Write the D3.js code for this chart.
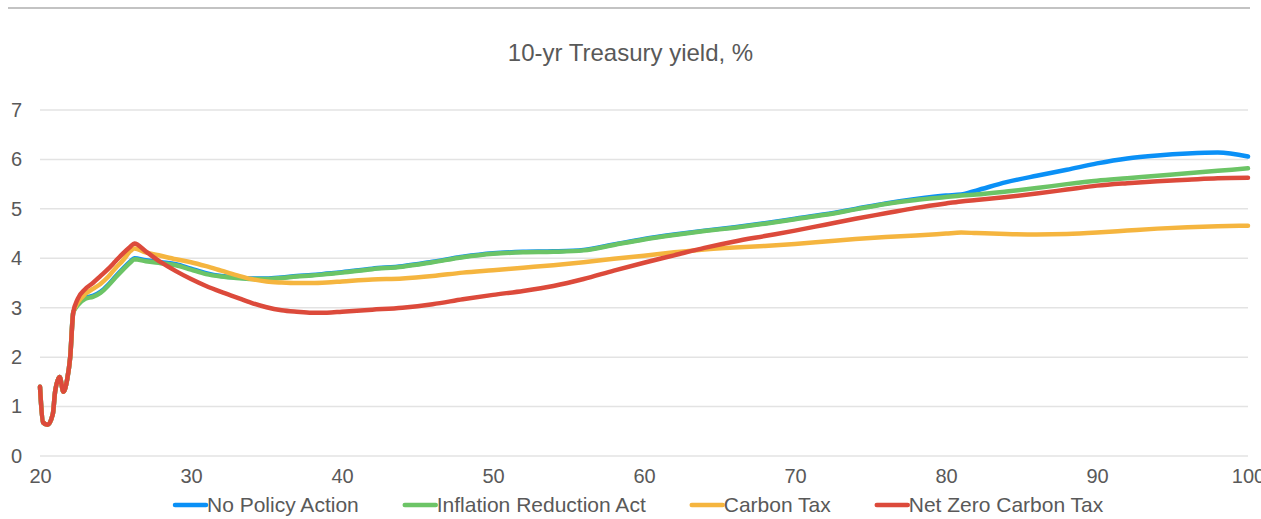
<!DOCTYPE html>
<html>
<head>
<meta charset="utf-8">
<script src="https://cdn.jsdelivr.net/npm/d3@7"></script>
<style>
  html, body { margin: 0; padding: 0; background: #fff; }
  svg { display: block; font-family: "Liberation Sans", Arial, sans-serif; }
</style>
</head>
<body>
<svg id="chart" width="1261" height="519"></svg>
<script>
// Shared history (all scenarios identical before the projections split)
const historyYears  = [20, 20.2, 20.5, 20.85, 21.0, 21.3, 21.55, 21.8, 22.0, 22.2];
const historyValues = [1.40, 0.68, 0.63, 0.85, 1.30, 1.60, 1.30, 1.55, 2.00, 2.90];

// Projection years
const years = [22.5, 23, 23.5, 24, 24.5, 25, 25.5, 26, 26.25, 27, 28, 29, 30, 31, 32, 33, 34, 35,
  36, 37, 38, 39, 40, 42, 44, 46, 48, 50, 52, 54, 56, 58, 60, 62, 64, 66, 68, 70, 72, 74, 76, 78,
  80, 81, 82, 84, 86, 88, 90, 92, 94, 96, 98, 100];

const noPolicyAction = [3.07, 3.20, 3.24, 3.32, 3.46, 3.63, 3.79, 3.94, 4.00, 3.96, 3.92, 3.88,
  3.79, 3.70, 3.64, 3.61, 3.59, 3.59, 3.61, 3.64, 3.66, 3.69, 3.72, 3.79, 3.84, 3.93, 4.03, 4.10,
  4.13, 4.14, 4.17, 4.28, 4.39, 4.48, 4.56, 4.63, 4.71, 4.80, 4.89, 5.00, 5.11, 5.20, 5.27, 5.29,
  5.37, 5.54, 5.67, 5.79, 5.92, 6.02, 6.08, 6.12, 6.14, 6.06];

const inflationReductionAct = [3.05, 3.18, 3.22, 3.30, 3.44, 3.61, 3.77, 3.92, 3.98, 3.94, 3.90,
  3.86, 3.77, 3.68, 3.63, 3.60, 3.58, 3.58, 3.60, 3.63, 3.65, 3.68, 3.71, 3.78, 3.83, 3.92, 4.02,
  4.09, 4.12, 4.13, 4.16, 4.27, 4.38, 4.47, 4.55, 4.62, 4.70, 4.79, 4.88, 4.99, 5.10, 5.18, 5.24,
  5.27, 5.29, 5.35, 5.42, 5.50, 5.57, 5.62, 5.67, 5.72, 5.77, 5.82];

const carbonTax = [3.10, 3.28, 3.38, 3.48, 3.62, 3.80, 3.96, 4.15, 4.20, 4.12, 4.05, 3.98, 3.92,
  3.84, 3.75, 3.66, 3.58, 3.53, 3.51, 3.50, 3.50, 3.51, 3.53, 3.57, 3.59, 3.64, 3.71, 3.76, 3.81,
  3.86, 3.92, 3.99, 4.05, 4.12, 4.18, 4.22, 4.25, 4.29, 4.34, 4.39, 4.43, 4.46, 4.50, 4.52, 4.51,
  4.49, 4.48, 4.49, 4.52, 4.56, 4.60, 4.63, 4.65, 4.66];

const netZeroCarbonTax = [3.18, 3.38, 3.50, 3.64, 3.78, 3.94, 4.10, 4.24, 4.30, 4.14, 3.92, 3.74,
  3.58, 3.44, 3.32, 3.21, 3.10, 3.01, 2.95, 2.92, 2.90, 2.90, 2.92, 2.96, 3.00, 3.07, 3.17, 3.26,
  3.34, 3.44, 3.58, 3.75, 3.91, 4.06, 4.21, 4.34, 4.45, 4.56, 4.68, 4.80, 4.91, 5.02, 5.11, 5.15,
  5.18, 5.24, 5.31, 5.39, 5.47, 5.52, 5.56, 5.59, 5.62, 5.63];

const seriesNames  = ["No Policy Action", "Inflation Reduction Act", "Carbon Tax", "Net Zero Carbon Tax"];
const seriesValues = [noPolicyAction, inflationReductionAct, carbonTax, netZeroCarbonTax];
const seriesColors = ["#0a90f6", "#6cc466", "#f5b53f", "#dc4a3b"];

const xTicks = [20, 30, 40, 50, 60, 70, 80, 90, 100];
const yTicks = [0, 1, 2, 3, 4, 5, 6, 7];
const title = "10-yr Treasury yield, %";

const W = 1261, H = 519;
const svg = d3.select("#chart");
const textColor = "#595959";

// Top rule
svg.append("line")
  .attr("x1", 8).attr("x2", 1250).attr("y1", 8).attr("y2", 8)
  .attr("stroke", "#c3c3c3").attr("stroke-width", 2);

// Title
svg.append("text")
  .attr("x", W / 2).attr("y", 61)
  .attr("text-anchor", "middle")
  .attr("font-size", 24)
  .attr("fill", textColor)
  .text(title);

const x = d3.scaleLinear().domain([20, 100]).range([40, 1248]);
const y = d3.scaleLinear().domain([0, 7]).range([456, 110]);

// Horizontal gridlines
svg.append("g")
  .selectAll("line")
  .data(yTicks)
  .join("line")
  .attr("x1", x(20)).attr("x2", x(100))
  .attr("y1", d => y(d)).attr("y2", d => y(d))
  .attr("stroke", "#e3e3e3").attr("stroke-width", 1.5);

// Y axis labels
const yAxis = d3.axisLeft(y).tickValues(yTicks).tickSize(0).tickPadding(0).tickFormat(d3.format("d"));
svg.append("g")
  .attr("transform", "translate(22,0)")
  .call(yAxis)
  .call(g => g.select(".domain").remove())
  .call(g => g.selectAll("text")
    .attr("font-size", 20).attr("fill", textColor)
    .attr("font-family", "Liberation Sans, Arial, sans-serif"));

// X axis labels
const xAxis = d3.axisBottom(x).tickValues(xTicks).tickSize(0).tickPadding(0).tickFormat(d3.format("d"));
svg.append("g")
  .attr("transform", "translate(0,469)")
  .call(xAxis)
  .call(g => g.select(".domain").remove())
  .call(g => g.selectAll("text")
    .attr("font-size", 20).attr("fill", textColor)
    .attr("font-family", "Liberation Sans, Arial, sans-serif"));

// Lines
const line = d3.line()
  .x(d => x(d[0]))
  .y(d => y(d[1]))
  .curve(d3.curveMonotoneX);

seriesValues.forEach((vals, i) => {
  const pts = historyYears.map((yr, j) => [yr, historyValues[j]])
    .concat(years.map((yr, j) => [yr, vals[j]]));
  svg.append("path")
    .datum(pts)
    .attr("fill", "none")
    .attr("stroke", seriesColors[i])
    .attr("stroke-width", 4.5)
    .attr("stroke-linejoin", "round")
    .attr("stroke-linecap", "round")
    .attr("d", line);
});

// Legend
const legend = svg.append("g").attr("transform", "translate(175,505)");
let cursor = 0;
seriesNames.forEach((name, i) => {
  const item = legend.append("g").attr("transform", `translate(${cursor},0)`);
  item.append("line")
    .attr("x1", 0).attr("x2", 31).attr("y1", 0).attr("y2", 0)
    .attr("stroke", seriesColors[i]).attr("stroke-width", 4.5)
    .attr("stroke-linecap", "round");
  const t = item.append("text")
    .attr("x", 32).attr("y", 0).attr("dy", "0.35em")
    .attr("font-size", 21).attr("fill", textColor)
    .text(name);
  cursor += 32 + t.node().getComputedTextLength() + 46;
});
</script>
</body>
</html>
